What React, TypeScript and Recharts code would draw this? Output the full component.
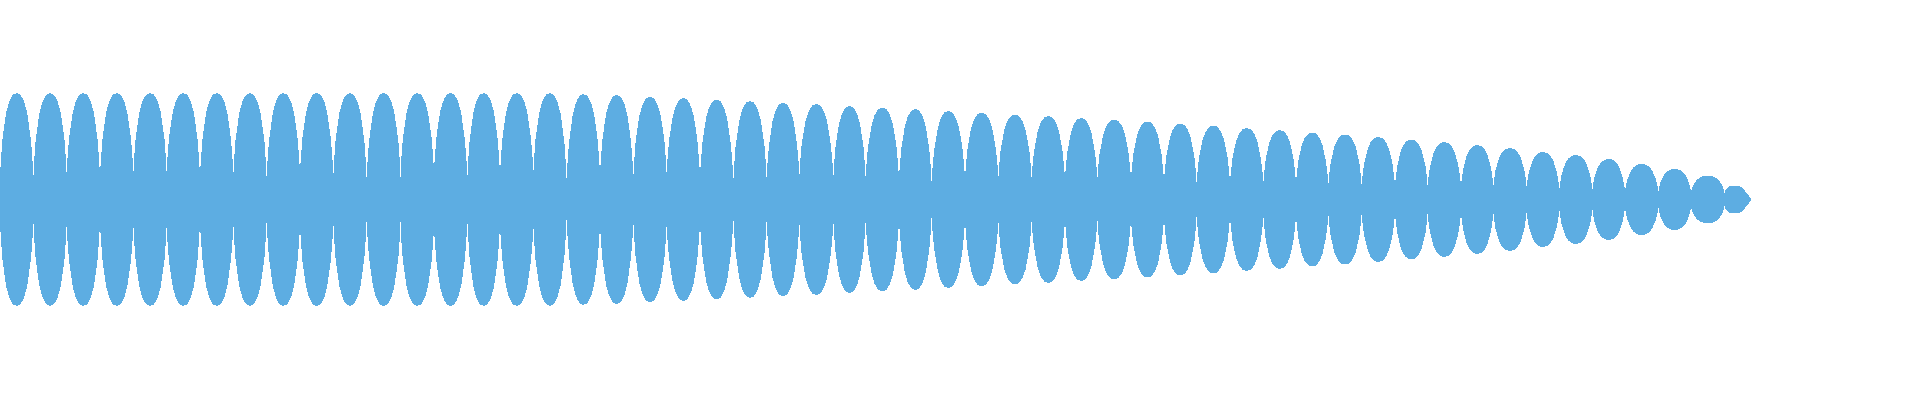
import React from 'react';
import { AreaChart, Area, XAxis, YAxis } from 'recharts';

// x position of each pinch point between lobes (px along the axis)
const JOIN_X = [
  0, 33.3, 66.7, 100, 133.3, 166.7, 200, 233.3, 266.7, 300, 333.3, 366.7, 400.5,
  434, 467.3, 500, 533.3, 566.7, 600, 633.3, 666.7, 700, 733.3, 766.7, 799.3, 833.3,
  865.7, 899, 931.7, 965, 998.3, 1031.7, 1065, 1097.3, 1131, 1164, 1196.7, 1230, 1263.3,
  1296, 1328.3, 1361.7, 1395, 1427.7, 1461, 1493.3, 1526.7, 1559.3, 1592.3, 1625, 1658.3,
  1691, 1724.5,
];

// half-height at each pinch point
const JOIN_V = [
  19.5, 19.5, 23, 20, 23, 24.5, 20, 22, 19, 23, 21, 18, 22,
  24.5, 18.5, 22, 24, 16, 22, 20, 23, 20, 16, 18.5, 21, 20,
  19.5, 18, 14.5, 18, 19.5, 18.5, 18, 18, 18, 16, 14.5, 14.5, 14.5,
  14.5, 13, 12.5, 12, 12, 11.5, 12, 11, 9, 8.5, 7, 7,
  6.7, 6.7,
];

// peak half-height of each lobe
const LOBE_AMP = [
  106.5, 106.5, 106.5, 106.5, 106.5, 106.5, 106.5, 106.5, 106.5, 106.5, 106.5, 106.5,
  106.5, 106.5, 106.5, 106.5, 106.5, 105.5, 104.5, 103, 101.5, 100, 98.5, 97, 95.5,
  93.5, 92, 90.5, 88.5, 87, 85, 83.5, 81.5, 80, 78, 76, 74, 71.5, 69.5, 67, 65, 62.5,
  60, 57.5, 54.5, 51.5, 47.5, 44.5, 40.5, 35.5, 30.5, 23.8, 14,
];

// rise of a lobe from its pinch point to its peak (fraction of lobe width -> fraction of height)
const PROFILE_U = [0, 0.021, 0.042, 0.061, 0.082, 0.103, 0.121, 0.142, 0.164, 0.182, 0.224, 0.264, 0.324, 0.385, 0.5];
const PROFILE_G = [0, 0.21, 0.3, 0.42, 0.49, 0.55, 0.6, 0.66, 0.72, 0.77, 0.83, 0.89, 0.94, 0.98, 1];

// last, truncated lobe: rises like the others, then tapers to the end
const LAST_PEAK_X = 1734;
const TAIL_X = [1738.3, 1741.7, 1745, 1748.3, 1750.3, 1751];
const TAIL_V = [13.8, 12, 8.5, 4.5, 2, 0];

const COLOR = '#5DADE2';

function buildRows() {
  const rows: { x: number; range: [number, number] }[] = [];
  const push = (x: number, v: number) => rows.push({ x, range: [-v, v] });
  const n = PROFILE_U.length;
  const full = JOIN_X.length - 1;
  for (let k = 0; k < full; k++) {
    const x0 = JOIN_X[k];
    const x1 = JOIN_X[k + 1];
    const w = x1 - x0;
    const a = LOBE_AMP[k];
    const jl = JOIN_V[k];
    const jr = JOIN_V[k + 1];
    for (let i = 0; i < n; i++) push(x0 + PROFILE_U[i] * w, jl + (a - jl) * PROFILE_G[i]);
    for (let i = n - 2; i >= 1; i--) push(x1 - PROFILE_U[i] * w, jr + (a - jr) * PROFILE_G[i]);
  }
  const x0 = JOIN_X[full];
  const w = 2 * (LAST_PEAK_X - x0);
  const a = LOBE_AMP[full];
  const jl = JOIN_V[full];
  for (let i = 0; i < n; i++) push(x0 + PROFILE_U[i] * w, jl + (a - jl) * PROFILE_G[i]);
  TAIL_X.forEach((x, i) => push(x, TAIL_V[i]));
  return rows;
}

const rows = buildRows();

export default function App() {
  return (
    <div style={{ position: 'absolute', left: 0, top: 0, width: 1920, height: 400, background: '#fff' }}>
      <style>{'.recharts-area-area{shape-rendering:crispEdges}'}</style>
      <AreaChart width={1920} height={400} data={rows} margin={{ top: 0, right: 0, bottom: 0, left: 0 }}>
        <XAxis dataKey="x" type="number" domain={[0, 1920]} hide />
        <YAxis type="number" domain={[-200.5, 199.5]} allowDataOverflow hide />
        <Area
          type="linear"
          dataKey="range"
          fill={COLOR}
          fillOpacity={1}
          stroke="none"
          isAnimationActive={false}
          dot={false}
          activeDot={false}
        />
      </AreaChart>
    </div>
  );
}
